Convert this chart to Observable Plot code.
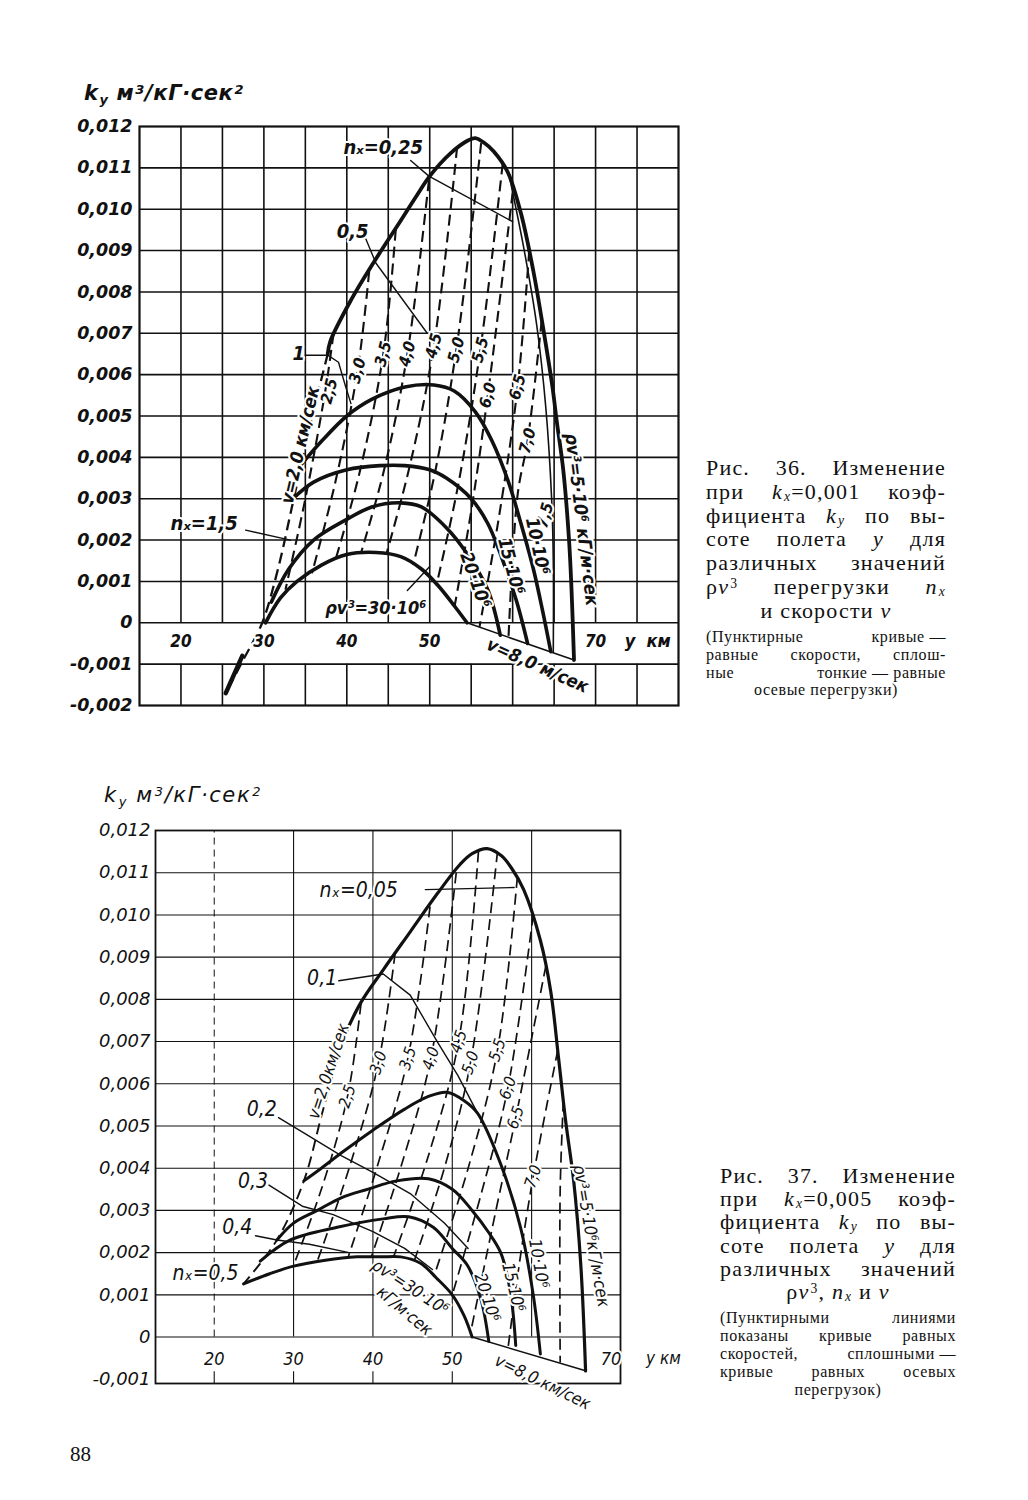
<!DOCTYPE html>
<html><head><meta charset="utf-8">
<script src="https://cdn.jsdelivr.net/npm/d3@7"></script>
<script src="https://cdn.jsdelivr.net/npm/@observablehq/plot@0.6"></script>
<style>
body{margin:0;background:#fff;}
#page{position:relative;width:1028px;height:1500px;background:#fff;overflow:hidden;color:#111;}
.abs{position:absolute;}
.ytitle{position:absolute;z-index:5;font-family:"DejaVu Sans",sans-serif;font-style:italic;font-size:21px;white-space:nowrap;line-height:26px;}
.cap{position:absolute;font-family:"Liberation Serif","DejaVu Serif",serif;color:#111;}
.cap div{text-align:justify;text-align-last:justify;white-space:nowrap;}
.cap div.c{text-align:center;text-align-last:center;}
.cap i{font-style:italic;}
.nb{display:inline-block;}
.sb{font-size:0.62em;position:relative;top:0.14em;line-height:0;margin-left:1px;}
.sp{font-size:0.62em;position:relative;top:-0.45em;line-height:0;margin-left:1px;}
</style></head>
<body><div id="page">

<div id="chart1" class="abs" style="left:0;top:100px;"></div>
<div id="chart2" class="abs" style="left:0;top:790px;"></div>

<div class="ytitle" style="left:84px;top:80px;font-weight:bold;letter-spacing:0.6px;">k<span class="sb" style="top:0.28em">y</span> м<span class="sp">3</span>/кГ·сек<span class="sp">2</span></div>
<div class="ytitle" style="left:104px;top:782px;letter-spacing:1.6px;">k<span class="sb" style="top:0.28em">y</span> м<span class="sp">3</span>/кГ·сек<span class="sp">2</span></div>

<div class="cap" style="left:706px;top:456px;width:240px;font-size:22px;line-height:23.8px;letter-spacing:1.2px;">
<div>Рис. 36. Изменение</div>
<div>при <i>k<span class="sb">x</span></i>=0,001 коэф-</div>
<div>фициента <i>k<span class="sb">y</span></i> по вы-</div>
<div>соте полета <i>y</i> для</div>
<div>различных значений</div>
<div>ρ<i>v</i><span class="sp">3</span> перегрузки <i>n<span class="sb">x</span></i></div>
<div class="c">и скорости <i>v</i></div>
</div>
<div class="cap" style="left:706px;top:628px;width:240px;font-size:16px;line-height:17.8px;letter-spacing:0.6px;">
<div>(Пунктирные <span class="nb">кривые —</span></div>
<div>равные скорости, сплош-</div>
<div>ные <span class="nb">тонкие — равные</span></div>
<div class="c">осевые перегрузки)</div>
</div>

<div class="cap" style="left:720px;top:1164px;width:236px;font-size:22px;line-height:23.2px;letter-spacing:1.2px;">
<div>Рис. 37. Изменение</div>
<div>при <i>k<span class="sb">x</span></i>=0,005 коэф-</div>
<div>фициента <i>k<span class="sb">y</span></i> по вы-</div>
<div>соте полета <i>y</i> для</div>
<div>различных значений</div>
<div class="c">ρ<i>v</i><span class="sp">3</span>, <i>n<span class="sb">x</span></i> и <i>v</i></div>
</div>
<div class="cap" style="left:720px;top:1309px;width:236px;font-size:16px;line-height:18px;letter-spacing:0.6px;">
<div>(Пунктирными линиями</div>
<div>показаны кривые равных</div>
<div>скоростей, <span class="nb">сплошными —</span></div>
<div>кривые равных осевых</div>
<div class="c">перегрузок)</div>
</div>

<div class="cap" style="left:70px;top:1442px;font-size:21px;">88</div>

</div>
<script>
// ---------------- DATA: Рис. 36 (k_x = 0,001) ----------------
const T_YTICKS = [-0.002,-0.001,0,0.001,0.002,0.003,0.004,0.005,0.006,0.007,0.008,0.009,0.010,0.011,0.012];
const T_HGRID = [-0.001,0,0.001,0.002,0.003,0.004,0.005,0.006,0.007,0.008,0.009,0.010,0.011];
const T_VGRID = [20,25,30,35,40,45,50,55,60,65,70,75];
const T_XLABELS = [20,30,40,50,70];
const T_XLABEL_KY = -0.00045;

// ρv³ = const curves (km, k_y)
const T_rv5 = [[37.7,0.0065],[38,0.0068],[40.5,0.0078],[43.2,0.0087],[46.1,0.0096],[48.5,0.01035],[50,0.0108],[52.5,0.01135],[54.6,0.01166],[55.5,0.01172],[56.6,0.0116],[57.7,0.0114],[59.4,0.0109],[61,0.0099],[62.5,0.0085],[63.7,0.0071],[64.8,0.0057],[65.3,0.0049],[66.1,0.0037],[66.8,0.0020],[67.1,0.0008],[67.4,-0.0009]];
const T_rv10 = [[34.4,0.0038],[37,0.0044],[40,0.0050],[43,0.0054],[47,0.0057],[50.5,0.00575],[53,0.0056],[55.5,0.0051],[57.5,0.0044],[59.5,0.0034],[61,0.0024],[62.5,0.0013],[63.6,0.0003],[64.6,-0.0007]];
const T_rv15 = [[33.5,0.0030],[36,0.0034],[40,0.0037],[44,0.0038],[47,0.0038],[50,0.0037],[52,0.0035],[55,0.0030],[57,0.0024],[59,0.0014],[60.5,0.0005],[61.8,-0.0005]];
const T_rv20 = [[30.9,0.0005],[33,0.0013],[36,0.0020],[40,0.0025],[43,0.0028],[46.5,0.0029],[49,0.0028],[52,0.0023],[54.4,0.0017],[57,0.0008],[58.5,-0.0003]];
const T_rv30 = [[30.2,0.0],[32,0.0006],[34,0.0010],[37,0.0014],[40,0.00165],[43.5,0.0017],[46.5,0.0016],[49,0.0013],[51,0.0009],[53,0.0004],[54.5,0.0]];
const T_tail = [[25.4,-0.0017],[27.4,-0.0008]];
// velocity lines v = const (dashed)
const T_v80 = [[54.5,0.0],[67.4,-0.0009]];
const T_v20 = [[37.7,0.0065],[35.6,0.0048],[33.6,0.0030],[31.7,0.0013],[29.8,0.0],[27.5,-0.0009],[25.4,-0.0017]];
const T_v25 = [[38.4,0.0070],[37.4,0.0056],[35.0,0.0030],[32.6,0.0008]];
const T_v30 = [[42.7,0.0085],[41.3,0.0061],[38.5,0.0033],[35.8,0.0012]];
const T_v35 = [[45.9,0.0095],[44.4,0.0065],[41.5,0.0036],[38.6,0.0015]];
const T_v40 = [[49.9,0.0107],[47.3,0.0065],[44.5,0.0037],[41.7,0.00168]];
const T_v45 = [[53.3,0.0115],[50.5,0.0067],[47.6,0.0038],[44.8,0.00168]];
const T_v50 = [[56.2,0.0116],[53.2,0.0066],[50.6,0.0036],[48.0,0.0014]];
const T_v55 = [[58.8,0.0111],[56.1,0.0066],[53.4,0.0033],[50.8,0.0009]];
const T_v60 = [[60.0,0.0104],[57.0,0.0055],[55.0,0.0027],[53.0,0.0004]];
const T_v65 = [[62.0,0.0090],[60.6,0.0057],[58.3,0.0025],[56.0,-0.0001]];
const T_v70 = [[63.5,0.0073],[61.8,0.0044],[60.6,0.0031],[59.5,-0.00035]];
const T_v75 = [[59.6,0.0108],[61.4,0.0090],[62.9,0.0072],[64.0,0.0052],[64.7,0.0030],[64.9,0.0015],[64.9,-0.0007]];
// axial overload lines n_x = const (thin) and pointers
const T_nx025 = [[47.7,0.01118],[49.9,0.0108],[60.0,0.0097]];
const T_nx05 = [[42.3,0.00928],[43.5,0.0087],[49.7,0.0070]];
const T_nx1 = [[35.0,0.00647],[37.7,0.00647],[39.0,0.0063],[39.8,0.00575],[40.5,0.0053]];
const T_nx15 = [[27.8,0.00224],[33.2,0.0020]];
const T_ptr30 = [[47.3,0.00078],[50.0,0.00136]];

const T_BIGLABELS = [["nₓ=0,25",44.4,0.01148],["0,5",40.7,0.00947],["1",34.2,0.0065],["nₓ=1,5",22.8,0.0024]];
const T_VLABELS = [["2,5",37.9,0.0056],["3,0",41.3,0.0061],["3,5",44.4,0.0065],["4,0",47.3,0.0065],["4,5",50.5,0.0067],["5,0",53.2,0.0066],["5,5",56.1,0.0066],["6,0",57.0,0.0055],["6,5",60.6,0.0057],["7,0",61.8,0.0044],["7,5",63.9,0.0026]];
const T_ROTLABELS = [["v=2,0 км/сек",34.4,0.0043,-77],["10·10⁶",63.0,0.00185,78],["15·10⁶",59.8,0.00137,75],["20·10⁶",55.5,0.00103,70],["ρv³=5·10⁶ кГ/м·сек",68.3,0.0025,83],["ρv³=30·10⁶",43.5,0.00035,0],["v=8,0 м/сек",63.0,-0.00104,24],["y  км",76.3,-0.00045,0]];

// ---------------- DATA: Рис. 37 (k_x = 0,005) ----------------
const B_YTICKS = [-0.001,0,0.001,0.002,0.003,0.004,0.005,0.006,0.007,0.008,0.009,0.010,0.011,0.012];
const B_HGRID = [0,0.001,0.002,0.003,0.004,0.005,0.006,0.007,0.008,0.009,0.010,0.011];
const B_VGRID = [30,40,50,60];
const B_VDASH = [20];
const B_BTICKS = [20,30,40,50,60];
const B_XLABELS = [20,30,40,50,70];
const B_XLABEL_KY = -0.00052;

const B_rv5 = [[36.1,0.0070],[38.4,0.0079],[41.3,0.0087],[44.7,0.0096],[48.1,0.0105],[51,0.0112],[52.5,0.01145],[54.4,0.01157],[56.2,0.0114],[57.5,0.0111],[59,0.0106],[61.1,0.0094],[62.4,0.0082],[63.4,0.0066],[64.3,0.0051],[65.3,0.0037],[66.2,0.0017],[66.8,-0.0008]];
const B_rv10 = [[31.3,0.0037],[33.5,0.0040],[36.3,0.0044],[40,0.0049],[44,0.0054],[47,0.0057],[49.3,0.0058],[51.5,0.0056],[53.2,0.0053],[56.1,0.0041],[58.6,0.0026],[60.2,0.0010],[61.1,-0.0004]];
const B_rv15 = [[27.9,0.0023],[30,0.0027],[33,0.0030],[36,0.0033],[39.3,0.0035],[43,0.0037],[47,0.00375],[50,0.0035],[52.5,0.0030],[54.5,0.0025],[56.1,0.0020],[57.3,0.0011],[58,-0.0002]];
const B_rv20 = [[25.8,0.0018],[29.6,0.0023],[35.5,0.0026],[41.3,0.0028],[44.5,0.00285],[47.6,0.0026],[50,0.0021],[51.9,0.0017],[53.6,0.0009],[54.6,-0.0001]];
const B_rv30 = [[23.7,0.00126],[27,0.0015],[30,0.00168],[34,0.00182],[38,0.0019],[41,0.0019],[43.5,0.0019],[46,0.00175],[48,0.0014],[50,0.0010],[51.5,0.0005],[52.5,0.0]];
const B_v80 = [[52.5,0.0],[66.8,-0.0008]];
const B_v20 = [[36.1,0.0070],[33.6,0.0053],[31.3,0.0037],[27.9,0.0023],[23.7,0.00126]];
const B_v25 = [[38.5,0.0079],[36.8,0.0057],[33.5,0.0035],[30.0,0.0017]];
const B_v30 = [[42.8,0.0091],[40.7,0.0065],[37.0,0.0040],[33.0,0.0018]];
const B_v35 = [[47.2,0.0102],[44.4,0.0066],[40.8,0.0042],[36.9,0.0019]];
const B_v40 = [[50.5,0.0110],[47.3,0.0066],[43.8,0.0042],[39.8,0.0019]];
const B_v45 = [[53.3,0.0115],[50.8,0.0070],[47.0,0.0043],[42.6,0.0019]];
const B_v50 = [[55.7,0.0115],[52.3,0.0065],[49.0,0.0040],[45.2,0.0018]];
const B_v55 = [[58.2,0.0109],[55.7,0.0068],[52.0,0.0040],[47.8,0.0015]];
const B_v60 = [[60.2,0.0100],[57.0,0.0059],[53.8,0.0035],[50.0,0.0010]];
const B_v65 = [[61.8,0.0088],[58.0,0.0052],[55.5,0.0030],[52.3,0.0001]];
const B_v70 = [[63.3,0.0068],[60.2,0.0038],[58.5,0.0018],[57.0,-0.0003]];
const B_v75 = [[64.0,0.0056],[63.6,0.0035],[63.6,-0.0006]];
const B_nx005 = [[46.6,0.0106],[57.8,0.01065]];
const B_nx01 = [[35.7,0.00844],[41.3,0.0086],[44.7,0.0081],[48.1,0.0070],[50.7,0.0062],[53.2,0.0053]];
const B_nx02 = [[28.1,0.0052],[31.6,0.0048],[36,0.0043],[40,0.0039],[44.7,0.0034],[49,0.0027],[52,0.0021]];
const B_nx03 = [[26.9,0.0036],[31.1,0.0031],[35,0.0029],[40,0.0025],[44,0.0021],[47.5,0.0016]];
const B_nx04 = [[25.2,0.0024],[27.9,0.0023],[32,0.0022],[37,0.0020]];

const B_BIGLABELS = [["nₓ=0,05",38.2,0.01058],["0,1",33.6,0.0085],["0,2",26.0,0.0054],["0,3",24.9,0.0037],["0,4",22.9,0.0026],["nₓ=0,5",18.9,0.0015]];
const B_VLABELS = [["2,5",36.8,0.0057],["3,0",40.7,0.0065],["3,5",44.4,0.0066],["4,0",47.3,0.0066],["4,5",50.8,0.0070],["5,0",52.3,0.0065],["5,5",55.7,0.0068],["6,0",57.0,0.0059],["6,5",58.0,0.0052],["7,0",60.2,0.0038]];
const B_ROTLABELS = [["v=2,0км/сек",34.4,0.0063,-72],["10·10⁶",60.9,0.00174,80],["15·10⁶",57.7,0.00118,76],["20·10⁶",54.4,0.00094,72],["ρv³=5·10⁶кГ/м·сек",67.5,0.0024,80],["ρv³=30·10⁶",44.7,0.00118,33],["кГ/м·сек",44.0,0.00062,40],["v=8,0 км/сек",61.4,-0.00107,26],["y км",76.6,-0.00052,0]];

// ---------------- drawing ----------------
const fmtY = d => d === 0 ? "0" : (d < 0 ? "-" : "") + Math.abs(d).toFixed(3).replace(".", ",");
const INK = "#111";
const line = (pts, o) => Plot.line(pts, {x: d => d[0], y: d => d[1], curve: "catmull-rom", stroke: INK, strokeLinejoin: "round", strokeLinecap: "round", ...o});
const heavy = (pts, w) => line(pts, {strokeWidth: w});
const thin = pts => line(pts, {strokeWidth: 1.4, curve: "linear"});
const dashed = (pts, w) => line(pts, {strokeWidth: w, strokeDasharray: "11,6", strokeLinecap: "butt"});

function labels(arr, font, size, rot) {
  return Plot.text(arr, {x: d => d[1], y: d => d[2], text: d => d[0], rotate: rot === undefined ? (d => d[3] || 0) : rot,
    fontSize: size, fontFamily: font.family, fontStyle: "italic", fontWeight: font.weight,
    fill: INK, stroke: "white", strokeWidth: 4});
}

// Chart 1
{
  const F = {family: "DejaVu Sans Condensed, DejaVu Sans, sans-serif", weight: "bold"};
  const chart = Plot.plot({
    width: 700, height: 620,
    marginLeft: 139, marginRight: 22, marginTop: 26, marginBottom: 15,
    x: {domain: [15, 80], axis: null},
    y: {domain: [-0.002, 0.012], axis: null},
    style: {background: "transparent", overflow: "visible"},
    marks: [
      Plot.ruleY(T_HGRID, {stroke: INK, strokeWidth: 1.6}),
      Plot.ruleX(T_VGRID, {y1: 0, y2: 0.012, stroke: INK, strokeWidth: 1.6}),
      Plot.ruleX(T_VGRID, {y1: -0.002, y2: -0.001, stroke: INK, strokeWidth: 1.6}),
      Plot.frame({stroke: INK, strokeWidth: 2.2}),
      ...[T_v25,T_v30,T_v35,T_v40,T_v45,T_v50,T_v55,T_v60,T_v65,T_v70].map(p => dashed(p, 2.1)),
      dashed(T_v20, 2.3),
      line(T_v75, {strokeWidth: 1.6}),
      line(T_v80, {strokeWidth: 1.6, curve: "linear"}),
      thin(T_nx025), thin(T_nx05), thin(T_nx1), thin(T_nx15), thin(T_ptr30),
      heavy(T_rv30, 3.6), heavy(T_rv20, 3.6), heavy(T_rv15, 3.6), heavy(T_rv10, 3.6), heavy(T_rv5, 3.8),
      line(T_tail, {strokeWidth: 4.5, curve: "linear"}),
      Plot.axisY({ticks: T_YTICKS, anchor: "left", tickSize: 0, tickPadding: 7, tickFormat: fmtY,
        fontSize: 17.5, fontFamily: "DejaVu Sans, sans-serif", fontStyle: "italic", fontWeight: "bold", fill: INK}),
      Plot.text(T_XLABELS, {x: d => d, y: () => T_XLABEL_KY, text: d => String(d), fontSize: 17,
        fontFamily: F.family, fontStyle: "italic", fontWeight: "bold", fill: INK, stroke: "white", strokeWidth: 4}),
      labels(T_VLABELS, F, 16, -75),
      labels(T_ROTLABELS, F, 18),
      labels(T_BIGLABELS, F, 20, 0)
    ]
  });
  document.getElementById("chart1").append(chart);
}

// Chart 2
{
  const F = {family: "DejaVu Sans Condensed, DejaVu Sans, sans-serif", weight: "normal"};
  const chart = Plot.plot({
    width: 720, height: 640,
    marginLeft: 155, marginRight: 100, marginTop: 40, marginBottom: 47,
    x: {domain: [12.6, 71.2], axis: null},
    y: {domain: [-0.0011, 0.012], axis: null},
    style: {background: "transparent", overflow: "visible"},
    marks: [
      Plot.ruleY(B_HGRID, {stroke: INK, strokeWidth: 1.1}),
      Plot.ruleX(B_VGRID, {y1: 0, y2: 0.012, stroke: INK, strokeWidth: 1.1}),
      Plot.ruleX(B_VDASH, {y1: 0, y2: 0.012, stroke: INK, strokeWidth: 1, strokeDasharray: "7,5"}),
      Plot.ruleX(B_BTICKS, {y1: -0.0011, y2: -0.00082, stroke: INK, strokeWidth: 1.1}),
      Plot.frame({stroke: INK, strokeWidth: 1.8}),
      ...[B_v25,B_v30,B_v35,B_v40,B_v45,B_v50,B_v55,B_v60,B_v65,B_v70,B_v75].map(p => dashed(p, 1.7)),
      dashed(B_v20, 1.9),
      line(B_v80, {strokeWidth: 1.5, curve: "linear"}),
      thin(B_nx005), thin(B_nx01), thin(B_nx02), thin(B_nx03), thin(B_nx04),
      heavy(B_rv30, 3), heavy(B_rv20, 3), heavy(B_rv15, 3), heavy(B_rv10, 3), heavy(B_rv5, 3.2),
      Plot.axisY({ticks: B_YTICKS, anchor: "left", tickSize: 0, tickPadding: 5, tickFormat: fmtY,
        fontSize: 18, fontFamily: "DejaVu Sans, sans-serif", fontStyle: "italic", fill: INK}),
      Plot.text(B_XLABELS, {x: d => d, y: () => B_XLABEL_KY, text: d => String(d), fontSize: 18,
        fontFamily: F.family, fontStyle: "italic", fill: INK, stroke: "white", strokeWidth: 4}),
      labels(B_VLABELS, F, 16, -72),
      labels(B_ROTLABELS, F, 17),
      labels(B_BIGLABELS, F, 21, 0)
    ]
  });
  document.getElementById("chart2").append(chart);
}
</script>
</body></html>
